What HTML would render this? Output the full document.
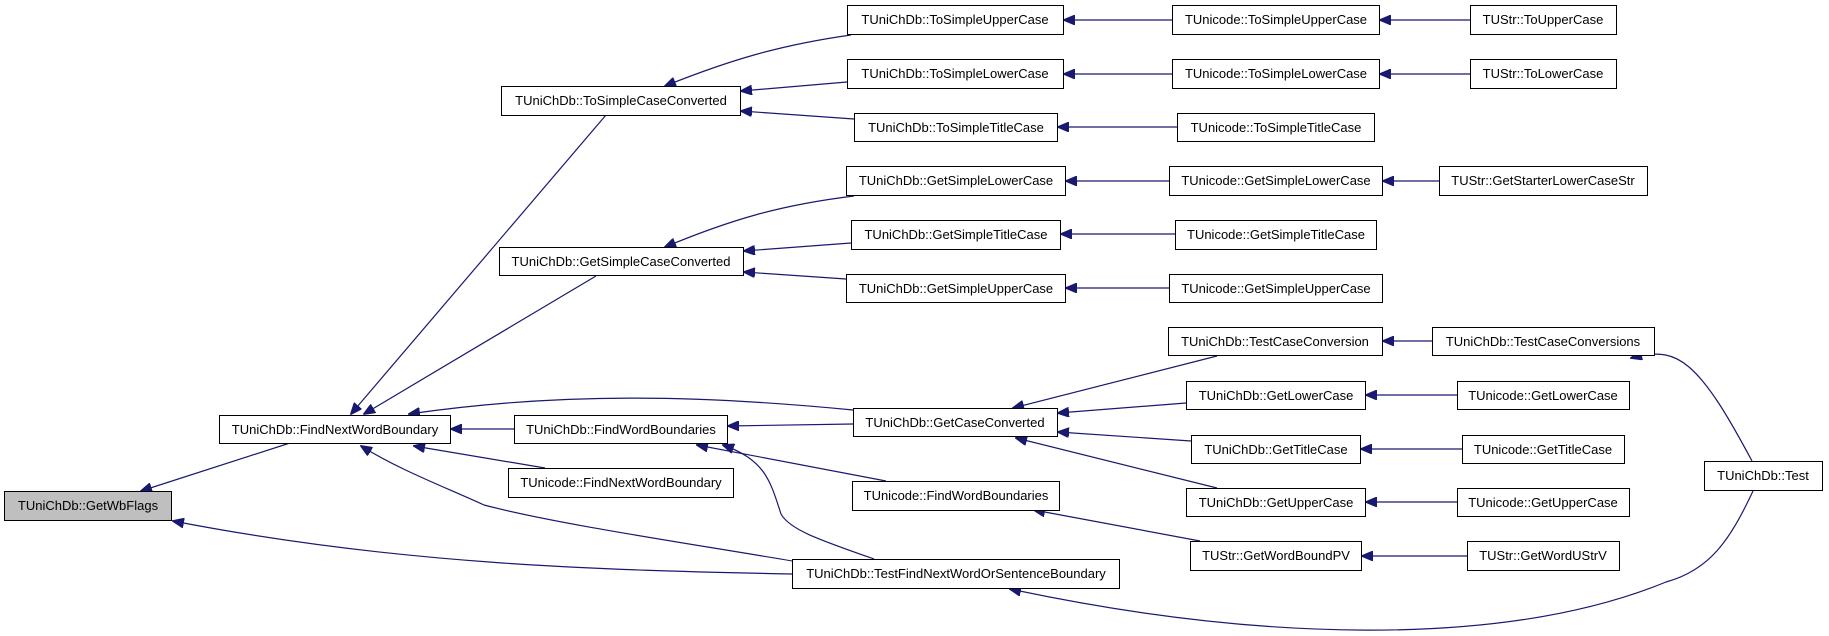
<!DOCTYPE html>
<html><head><meta charset="utf-8"><style>
html,body{margin:0;padding:0;background:#fff;}
svg{display:block;}
text{font-family:"Liberation Sans",sans-serif;font-size:13px;fill:#000;}
</style></head><body>
<svg width="1829" height="636" viewBox="0 0 1829 636" xmlns="http://www.w3.org/2000/svg">
<defs>
<marker id="a" markerWidth="12" markerHeight="10" refX="11" refY="5" orient="auto" markerUnits="userSpaceOnUse">
<polygon points="0,0 12,5 0,10" fill="#191970" stroke="#191970"/>
</marker>
</defs>
<g fill="none" stroke="#191970" stroke-width="1.2" marker-end="url(#a)">
<path d="M290,443 L141,491"/>
<path d="M792,574 C600,570 400,565 173,521"/>
<path d="M606,115 L351,414"/>
<path d="M596,276 L364,414"/>
<path d="M853,410 C700,395 560,392 409,414"/>
<path d="M514,429 L451,429"/>
<path d="M545,468 L414,446"/>
<path d="M804,563 C700,545 560,525 484,505 C440,485 400,470 361,446"/>
<path d="M853,424 L728,426"/>
<path d="M886,481 L697,445"/>
<path d="M874,559 C820,540 790,530 781,514 C770,480 765,460 723,445"/>
<path d="M851,35 C780,45 730,60 665,86"/>
<path d="M847,82 L741,91"/>
<path d="M854,119 L741,111"/>
<path d="M854,196 C780,205 730,220 665,247"/>
<path d="M851,243 L744,251"/>
<path d="M846,279 L744,272"/>
<path d="M1217,356 L1013,408"/>
<path d="M1186,403 L1058,413"/>
<path d="M1191,441 L1058,432"/>
<path d="M1217,488 L1016,438"/>
<path d="M1200,541 L1034,510"/>
<path d="M1172,20 L1064,20"/>
<path d="M1172,74 L1064,74"/>
<path d="M1177,127 L1058,127"/>
<path d="M1169,181 L1066,181"/>
<path d="M1175,234 L1061,234"/>
<path d="M1169,288 L1066,288"/>
<path d="M1470,20 L1380,20"/>
<path d="M1470,74 L1380,74"/>
<path d="M1439,181 L1383,181"/>
<path d="M1432,341 L1383,341"/>
<path d="M1457,395 L1366,395"/>
<path d="M1462,449 L1361,449"/>
<path d="M1457,502 L1366,502"/>
<path d="M1467,556 L1362,556"/>
<path d="M1752,461 C1730,420 1710,385 1689,367 C1675,355 1660,350 1631,358"/>
<path d="M1753,491 C1730,540 1710,570 1666,582 C1500,650 1250,640 1010,589"/>
</g>
<g stroke="#000" stroke-width="1" fill="#fff">
<rect x="4.5" y="491.5" width="167" height="29" fill="#bfbfbf"/>
<rect x="219.5" y="415.5" width="231" height="28"/>
<rect x="501.5" y="86.5" width="239" height="29"/>
<rect x="499.5" y="247.5" width="244" height="28"/>
<rect x="514.5" y="415.5" width="213" height="28"/>
<rect x="508.5" y="468.5" width="225" height="29"/>
<rect x="792.5" y="559.5" width="327" height="29"/>
<rect x="847.5" y="5.5" width="216" height="29"/>
<rect x="847.5" y="59.5" width="216" height="29"/>
<rect x="854.5" y="113.5" width="203" height="28"/>
<rect x="846.5" y="166.5" width="219" height="29"/>
<rect x="851.5" y="220.5" width="209" height="29"/>
<rect x="846.5" y="274.5" width="219" height="28"/>
<rect x="853.5" y="408.5" width="204" height="28"/>
<rect x="852.5" y="481.5" width="207" height="29"/>
<rect x="1172.5" y="5.5" width="207" height="29"/>
<rect x="1172.5" y="59.5" width="207" height="29"/>
<rect x="1177.5" y="113.5" width="197" height="28"/>
<rect x="1169.5" y="166.5" width="213" height="29"/>
<rect x="1175.5" y="220.5" width="201" height="29"/>
<rect x="1169.5" y="274.5" width="213" height="28"/>
<rect x="1168.5" y="327.5" width="214" height="28"/>
<rect x="1186.5" y="381.5" width="179" height="28"/>
<rect x="1191.5" y="435.5" width="169" height="28"/>
<rect x="1186.5" y="488.5" width="179" height="28"/>
<rect x="1190.5" y="541.5" width="171" height="29"/>
<rect x="1470.5" y="5.5" width="146" height="29"/>
<rect x="1470.5" y="59.5" width="146" height="29"/>
<rect x="1439.5" y="166.5" width="208" height="29"/>
<rect x="1432.5" y="327.5" width="222" height="28"/>
<rect x="1457.5" y="381.5" width="172" height="28"/>
<rect x="1462.5" y="435.5" width="162" height="28"/>
<rect x="1457.5" y="488.5" width="172" height="28"/>
<rect x="1467.5" y="541.5" width="152" height="29"/>
<rect x="1704.5" y="461.5" width="118" height="29"/>
</g>
<g text-anchor="middle">
<text x="88" y="510">TUniChDb::GetWbFlags</text>
<text x="335" y="434">TUniChDb::FindNextWordBoundary</text>
<text x="621" y="105">TUniChDb::ToSimpleCaseConverted</text>
<text x="621" y="266">TUniChDb::GetSimpleCaseConverted</text>
<text x="621" y="434">TUniChDb::FindWordBoundaries</text>
<text x="621" y="487">TUnicode::FindNextWordBoundary</text>
<text x="956" y="578">TUniChDb::TestFindNextWordOrSentenceBoundary</text>
<text x="955" y="24">TUniChDb::ToSimpleUpperCase</text>
<text x="955" y="78">TUniChDb::ToSimpleLowerCase</text>
<text x="956" y="132">TUniChDb::ToSimpleTitleCase</text>
<text x="956" y="185">TUniChDb::GetSimpleLowerCase</text>
<text x="956" y="239">TUniChDb::GetSimpleTitleCase</text>
<text x="956" y="293">TUniChDb::GetSimpleUpperCase</text>
<text x="955" y="427">TUniChDb::GetCaseConverted</text>
<text x="956" y="500">TUnicode::FindWordBoundaries</text>
<text x="1276" y="24">TUnicode::ToSimpleUpperCase</text>
<text x="1276" y="78">TUnicode::ToSimpleLowerCase</text>
<text x="1276" y="132">TUnicode::ToSimpleTitleCase</text>
<text x="1276" y="185">TUnicode::GetSimpleLowerCase</text>
<text x="1276" y="239">TUnicode::GetSimpleTitleCase</text>
<text x="1276" y="293">TUnicode::GetSimpleUpperCase</text>
<text x="1275" y="346">TUniChDb::TestCaseConversion</text>
<text x="1276" y="400">TUniChDb::GetLowerCase</text>
<text x="1276" y="454">TUniChDb::GetTitleCase</text>
<text x="1276" y="507">TUniChDb::GetUpperCase</text>
<text x="1276" y="560">TUStr::GetWordBoundPV</text>
<text x="1543" y="24">TUStr::ToUpperCase</text>
<text x="1543" y="78">TUStr::ToLowerCase</text>
<text x="1543" y="185">TUStr::GetStarterLowerCaseStr</text>
<text x="1543" y="346">TUniChDb::TestCaseConversions</text>
<text x="1543" y="400">TUnicode::GetLowerCase</text>
<text x="1543" y="454">TUnicode::GetTitleCase</text>
<text x="1543" y="507">TUnicode::GetUpperCase</text>
<text x="1543" y="560">TUStr::GetWordUStrV</text>
<text x="1763" y="480">TUniChDb::Test</text>
</g>
</svg>
</body></html>
